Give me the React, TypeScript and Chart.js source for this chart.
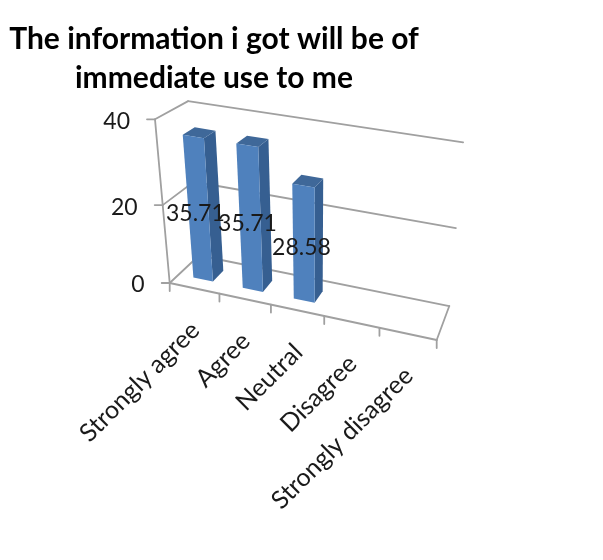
import React, { useEffect, useRef } from "react";
import { Chart, registerables } from "chart.js";

Chart.register(...registerables);

const categories = ["Strongly agree", "Agree", "Neutral", "Disagree", "Strongly disagree"];
const percentages = [35.71, 35.71, 28.58, null, null];
const yTicks = { min: 0, max: 40, stepSize: 20 };
const titleLines = ["The information i got will be of", "immediate use to me"];

// 3D frame of the plot in page pixels: origin corner, end of each axis, perspective weights
const O = [169.7, 283];
const X = [436.7, 340];
const Y = [155, 119.3];
const Z = [199, 255.5];
const A = 0.916;
const B = 0.908;
const C = 1.071;
const FONT = "Lato";
const GREY = "#a0a0a0";

function project(u: number, v: number, w: number): [number, number] {
  const den = 1 + u * (A - 1) + v * (B - 1) + w * (C - 1);
  const f = (i: number) =>
    (O[i] + u * (A * X[i] - O[i]) + v * (B * Y[i] - O[i]) + w * (C * Z[i] - O[i])) / den;
  return [f(0), f(1)];
}

function line(ctx: CanvasRenderingContext2D, a: [number, number], b: [number, number]) {
  ctx.beginPath();
  ctx.moveTo(a[0], a[1]);
  ctx.lineTo(b[0], b[1]);
  ctx.stroke();
}

function face(ctx: CanvasRenderingContext2D, pts: [number, number][], fill: string) {
  ctx.beginPath();
  pts.forEach((p, i) => (i ? ctx.lineTo(p[0], p[1]) : ctx.moveTo(p[0], p[1])));
  ctx.closePath();
  ctx.fillStyle = fill;
  ctx.fill();
}

const perspectivePlugin = {
  id: "perspective",
  beforeDatasetsDraw() {
    return false;
  },
  afterDraw(chart: any) {
    const ctx: CanvasRenderingContext2D = chart.ctx;
    const xs = chart.scales.x;
    const ys = chart.scales.y;
    const toU = (px: number) => (px - xs.left) / xs.width;
    const toV = (py: number) => (ys.bottom - py) / ys.height;
    const n = categories.length;

    ctx.save();
    ctx.lineCap = "round";
    ctx.strokeStyle = GREY;
    ctx.lineWidth = 1.8;

    // walls: one line on the back wall and side wall for each value tick
    for (const t of ys.ticks) {
      const v = toV(ys.getPixelForValue(t.value));
      line(ctx, project(0, v, 0), project(0, v, 1));
      line(ctx, project(0, v, 1), project(1, v, 1));
      const a = project(0, v, 0);
      line(ctx, a, [a[0] - 8, a[1]]);
    }
    // axes and floor
    line(ctx, project(0, 0, 0), project(0, 1, 0));
    line(ctx, project(0, 0, 0), project(1, 0, 0));
    line(ctx, project(1, 0, 0), project(1, 0, 1));
    for (let i = 0; i <= n; i++) {
      const a = project(i / n, 0, 0);
      line(ctx, a, [a[0], a[1] + 8]);
    }

    // bars
    const meta = chart.getDatasetMeta(0);
    const colour = chart.data.datasets[0].backgroundColor;
    const w0 = 0.3;
    const w1 = 0.68;
    const bars = meta.data.map((el: any, i: number) => ({ el, value: percentages[i] }));
    for (const { el, value } of bars) {
      if (value == null) continue;
      const u0 = toU(el.x - el.width / 2);
      const u1 = toU(el.x + el.width / 2);
      const v = toV(el.y);
      face(ctx, [project(u1, 0, w0), project(u1, 0, w1), project(u1, v, w1), project(u1, v, w0)], "#365f91");
      face(ctx, [project(u0, v, w0), project(u1, v, w0), project(u1, v, w1), project(u0, v, w1)], "#3f6899");
      face(ctx, [project(u0, 0, w0), project(u1, 0, w0), project(u1, v, w0), project(u0, v, w0)], colour);
    }

    // text
    ctx.fillStyle = "#1a1a1a";
    ctx.font = `23px ${FONT}`;
    ctx.textBaseline = "middle";
    ctx.textAlign = "center";
    for (const { el, value } of bars) {
      if (value == null) continue;
      const p = project(toU(el.x), toV(el.y) / 2, 0.2);
      ctx.fillText(value.toFixed(2), p[0], p[1]);
    }
    ctx.textAlign = "right";
    for (const t of ys.ticks) {
      const p = project(0, toV(ys.getPixelForValue(t.value)), 0);
      ctx.fillText(String(t.value), p[0] - 25, p[1] + 2);
    }
    ctx.font = `25px ${FONT}`;
    xs.getLabels().forEach((label: string, i: number) => {
      const p = project(toU(xs.getPixelForValue(i)), 0, 0);
      ctx.save();
      ctx.translate(p[0] + 1, p[1] + 38);
      ctx.rotate(-Math.PI / 4);
      ctx.fillText(label, 0, 0);
      ctx.restore();
    });
    ctx.restore();
  },
};

export default function App() {
  const ref = useRef<HTMLCanvasElement>(null);
  useEffect(() => {
    const chart = new Chart(ref.current!, {
      type: "bar",
      data: {
        labels: categories,
        datasets: [
          {
            data: percentages,
            backgroundColor: "#4f81bd",
            barPercentage: 0.4,
            categoryPercentage: 1,
          },
        ],
      },
      options: {
        responsive: false,
        animation: false,
        layout: { padding: { right: 175 } },
        scales: {
          x: { display: false },
          y: { display: false, min: yTicks.min, max: yTicks.max, ticks: { stepSize: yTicks.stepSize } },
        },
        plugins: {
          legend: { display: false },
          tooltip: { enabled: false },
          title: {
            display: true,
            text: titleLines,
            color: "#000",
            font: { family: FONT, weight: "bold", size: 30, lineHeight: 1.3 },
            padding: { top: 20, bottom: 10 },
          },
        },
      },
      plugins: [perspectivePlugin],
    } as any);
    return () => chart.destroy();
  }, []);
  return (
    <div style={{ position: "fixed", left: 0, top: 0, width: 603, height: 560, background: "#fff" }}>
      <canvas ref={ref} width={603} height={560} style={{ display: "block" }} />
    </div>
  );
}
